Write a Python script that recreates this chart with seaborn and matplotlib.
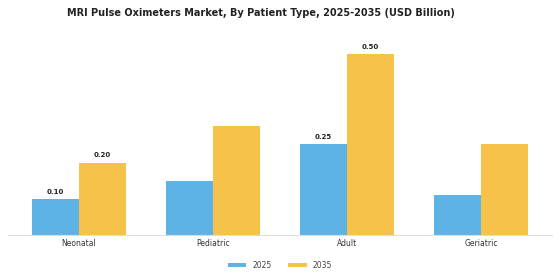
import pandas as pd
import matplotlib
matplotlib.use("Agg")
import matplotlib.pyplot as plt
import seaborn as sns

categories = ["Neonatal", "Pediatric", "Adult", "Geriatric"]
years = ["2025", "2035"]
values_2025 = [0.10, 0.15, 0.25, 0.11]
values_2035 = [0.20, 0.30, 0.50, 0.25]
# which bars carry a value label
labelled = {("Neonatal", "2025"), ("Neonatal", "2035"), ("Adult", "2025"), ("Adult", "2035")}

df = pd.DataFrame({
    "type": categories * 2,
    "year": ["2025"] * 4 + ["2035"] * 4,
    "value": values_2025 + values_2035,
})

sns.set_style("white")
fig = plt.figure(figsize=(5.6, 2.8), dpi=100)
ax = fig.add_axes([0.014, 0.161, 0.972, 0.743])
sns.barplot(data=df, x="type", y="value", hue="year", order=categories, hue_order=years,
            palette=["#5DB3E6", "#F7C24A"], width=0.7, saturation=1, linewidth=0, ax=ax)

for cont, yr in zip(ax.containers, years):
    for bar, cat, v in zip(cont, categories, df[df["year"] == yr]["value"]):
        if (cat, yr) in labelled:
            ax.annotate(f"{v:.2f}", (bar.get_x() + bar.get_width() / 2, bar.get_height()),
                        xytext=(0, 3), textcoords="offset points", ha="center", va="bottom",
                        fontsize=5, fontweight="bold", color="#222222")

ax.set_ylim(0, 0.575)
ax.set_xlim(-0.53, 3.53)
ax.set_yticks([])
ax.set_xlabel("")
ax.set_ylabel("")
for s in ["top", "right", "left"]:
    ax.spines[s].set_visible(False)
ax.spines["bottom"].set_color("#dddddd")
ax.spines["bottom"].set_linewidth(0.8)
ax.tick_params(axis="x", length=0, labelsize=5.5, labelcolor="#333333", pad=3)

ax.legend(loc="center", bbox_to_anchor=(0.5, -0.145), ncol=2, frameon=False,
          fontsize=5.5, handlelength=2.4, handleheight=0.5, columnspacing=2.2,
          labelcolor="#444444")

fig.suptitle("MRI Pulse Oximeters Market, By Patient Type, 2025-2035 (USD Billion)",
             fontsize=7, fontweight="bold", x=0.466, y=0.97, color="#222222")

fig.savefig("out.png", dpi=100)
